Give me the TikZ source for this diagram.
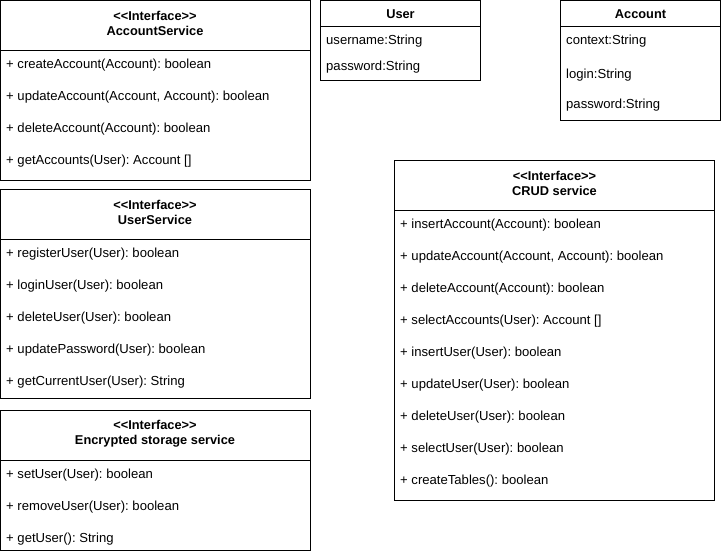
\documentclass[tikz,border=0pt]{standalone}
\usepackage{fontspec}
\setmainfont[Ligatures=NoCommon]{Liberation Sans}
\newcommand{\stereo}{{<}{<}Interface{>}{>}}
\frenchspacing
\begin{document}
\begin{tikzpicture}[x=1pt,y=-1pt,
  box/.style={draw=black,line width=1pt,anchor=north west,inner sep=0pt,outer sep=0pt},
  item/.style={anchor=west,inner sep=0pt,font=\fontsize{13.1}{14}\selectfont\frenchspacing},
  ttl/.style={anchor=center,inner sep=0pt,align=center,font=\fontsize{12.8}{15}\selectfont\bfseries},
  divl/.style={draw=black,line width=1pt}]
\useasboundingbox (0,0) rectangle (721,554);
% AccountService
\node[box,minimum width=309.5pt,minimum height=179.5pt] (as) at (0.5,0.5) {};
\node[ttl] (ast) at (155,23.5) {\stereo\\AccountService};
\draw[divl] (as.west |- 0,50.5) -- (as.east |- 0,50.5);
\node[item] (as1) at (6,65) {+ createAccount(Account): boolean};
\node[item] (as2) at (6,97) {+ updateAccount(Account, Account): boolean};
\node[item] (as3) at (6,129) {+ deleteAccount(Account): boolean};
\node[item] (as4) at (6,161) {+ getAccounts(User): Account []};
% UserService
\node[box,minimum width=309.5pt,minimum height=208.5pt] (us) at (0.5,189.5) {};
\node[ttl] (ust) at (155,212.5) {\stereo\\UserService};
\draw[divl] (us.west |- 0,239.5) -- (us.east |- 0,239.5);
\node[item] (us1) at (6,254) {+ registerUser(User): boolean};
\node[item] (us2) at (6,286) {+ loginUser(User): boolean};
\node[item] (us3) at (6,318) {+ deleteUser(User): boolean};
\node[item] (us4) at (6,350) {+ updatePassword(User): boolean};
\node[item] (us5) at (6,382) {+ getCurrentUser(User): String};
% Encrypted storage service
\node[box,minimum width=309.5pt,minimum height=140pt] (es) at (0.5,410.5) {};
\node[ttl] (est) at (155,433.5) {\stereo\\Encrypted storage service};
\draw[divl] (es.west |- 0,460.5) -- (es.east |- 0,460.5);
\node[item] (es1) at (6,475) {+ setUser(User): boolean};
\node[item] (es2) at (6,507) {+ removeUser(User): boolean};
\node[item] (es3) at (6,539) {+ getUser(): String};
% User
\node[box,minimum width=160pt,minimum height=80pt] (u) at (320.5,0.5) {};
\node[ttl] (ut) at (400.5,14.5) {User};
\draw[divl] (u.west |- 0,26.5) -- (u.east |- 0,26.5);
\node[item] (u1) at (326,41) {username:String};
\node[item] (u2) at (326,67) {password:String};
% Account
\node[box,minimum width=160pt,minimum height=120pt] (a) at (560.5,0.5) {};
\node[ttl] (at) at (640.5,14.5) {Account};
\draw[divl] (a.west |- 0,26.5) -- (a.east |- 0,26.5);
\node[item] (a1) at (566,41) {context:String};
\node[item] (a2) at (566,75) {login:String};
\node[item] (a3) at (566,105) {password:String};
% CRUD service
\node[box,minimum width=320pt,minimum height=340pt] (c) at (394.5,160.5) {};
\node[ttl] (ct) at (554.5,183.5) {\stereo\\CRUD service};
\draw[divl] (c.west |- 0,210.5) -- (c.east |- 0,210.5);
\node[item] (c1) at (400,225) {+ insertAccount(Account): boolean};
\node[item] (c2) at (400,257) {+ updateAccount(Account, Account): boolean};
\node[item] (c3) at (400,289) {+ deleteAccount(Account): boolean};
\node[item] (c4) at (400,321) {+ selectAccounts(User): Account []};
\node[item] (c5) at (400,353) {+ insertUser(User): boolean};
\node[item] (c6) at (400,385) {+ updateUser(User): boolean};
\node[item] (c7) at (400,417) {+ deleteUser(User): boolean};
\node[item] (c8) at (400,449) {+ selectUser(User): boolean};
\node[item] (c9) at (400,481) {+ createTables(): boolean};
\end{tikzpicture}
\end{document}
